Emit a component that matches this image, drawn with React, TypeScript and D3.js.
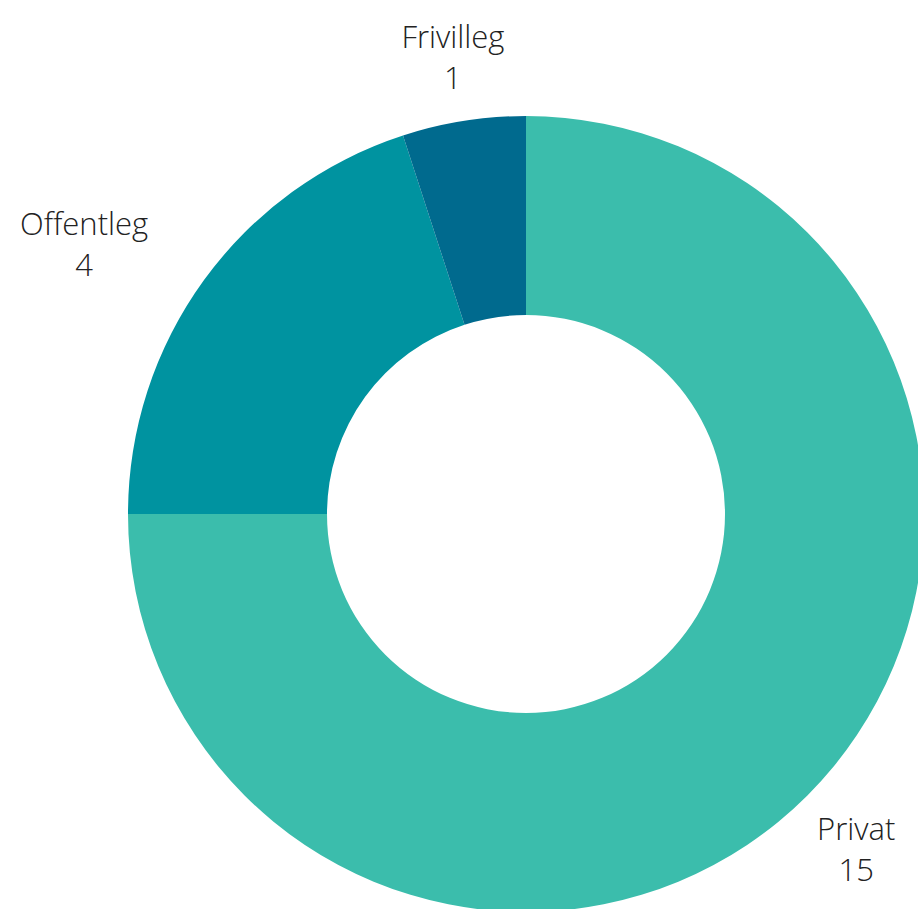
import React, { useEffect, useRef } from 'react'
import * as d3 from 'd3'

const categories = ['Privat', 'Offentleg', 'Frivilleg']
const values = [15, 4, 1]
const colors = ['#3bbdac', '#0093a0', '#006a8e']

const width = 918
const height = 909

const App = () => {
  const svgRef = useRef<SVGSVGElement>(null)

  useEffect(() => {
    const svg = d3.select(svgRef.current)
    svg.selectAll('*').remove()

    const cx = 526
    const cy = 514
    const outer = 398
    const inner = 199
    const labelR = 467

    const data = categories.map((c, i) => ({ name: c, value: values[i], color: colors[i] }))
    const pie = d3.pie<any>().sort(null).value((d) => d.value)
    const arcs = pie(data)

    const arc = d3.arc<any>().innerRadius(inner).outerRadius(outer)

    const g = svg.append('g').attr('transform', `translate(${cx},${cy})`)

    g.selectAll('path')
      .data(arcs)
      .join('path')
      .attr('d', arc)
      .attr('fill', (d) => d.data.color)

    const labels = g
      .selectAll('g.label')
      .data(arcs)
      .join('g')
      .attr('class', 'label')

    labels.each(function (d) {
      const a = (d.startAngle + d.endAngle) / 2
      const x = labelR * Math.sin(a)
      const y = -labelR * Math.cos(a)
      const t = d3
        .select(this)
        .append('text')
        .attr('text-anchor', 'middle')
        .style('font-family', '"Open Sans", sans-serif')
        .style('font-weight', 300)
        .style('font-size', '31px')
        .attr('fill', '#222')
      t.append('tspan').attr('x', 0).attr('dy', '-0.15em').text(d.data.name)
      t.append('tspan').attr('x', 0).attr('dy', '1.33em').text(d.data.value)
      const bb = (t.node() as SVGTextElement).getBBox()
      // left-side labels near horizontal end at the anchor point
      let dx = 0
      if (Math.sin(a) < -0.5) dx = -bb.width / 2
      d3.select(this).attr('transform', `translate(${x + dx},${y})`)
    })
  }, [])

  return (
    <div style={{ position: 'absolute', left: 0, top: 0 }}>
      <svg ref={svgRef} width={width} height={height} style={{ display: 'block', background: '#fff' }} />
    </div>
  )
}

export default App
